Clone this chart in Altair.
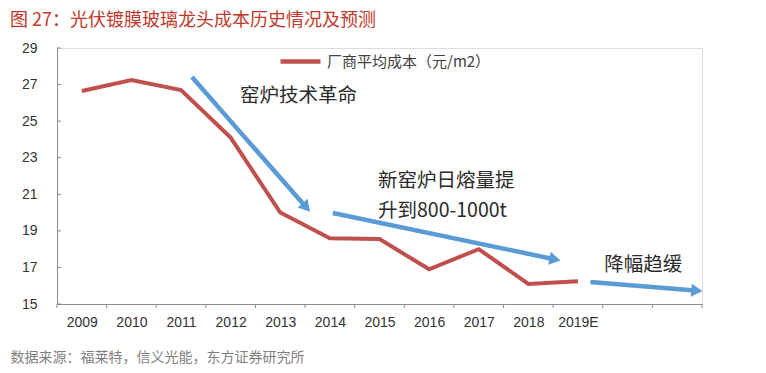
import math
import altair as alt
import pandas as pd

# ---- data ----
years = ["2009", "2010", "2011", "2012", "2013", "2014", "2015", "2016", "2017", "2018", "2019E"]
cost = [26.65, 27.25, 26.7, 24.1, 20.0, 18.6, 18.55, 16.9, 18.0, 16.1, 16.25]
series_name = "厂商平均成本（元/m2）"
n_slots = 13  # two empty category slots after 2019E
y_ticks = [15, 17, 19, 21, 23, 25, 27, 29]

# annotation arrows (start/end in data units: slot index, cost)
arrow_x0 = [2.72, 5.56, 10.75]
arrow_y0 = [27.41, 19.98, 16.2]
arrow_x1 = [5.0, 10.0, 12.86]
arrow_y1 = [20.36, 17.46, 15.74]

notes = ["窑炉技术革命", "新窑炉日熔量提", "升到800-1000t", "降幅趋缓"]
note_x = [3.69, 6.47, 6.47, 11.03]
note_y = [26.37, 21.72, 20.08, 17.13]

title_text = "图 27：光伏镀膜玻璃龙头成本历史情况及预测"
source_text = "数据来源：福莱特，信义光能，东方证券研究所"

# ---- build tables ----
W, H = 645, 256
ymin, ymax = 15, 29
RED = "#c0504d"
BLUE = "#5b9bd5"
AXC = "#8c8c8c"
CJK = "Noto Sans CJK SC"

line_df = pd.DataFrame({
    "pos": [i + 0.5 for i in range(len(years))],
    "cost": cost,
    "year": years,
    "series": [series_name] * len(years),
})

px_x = W / n_slots
px_y = H / (ymax - ymin)
angles = []
for a, b, c, d in zip(arrow_x0, arrow_y0, arrow_x1, arrow_y1):
    dx = (c - a) * px_x
    dy_up = (d - b) * px_y
    angles.append(math.degrees(math.atan2(dx, dy_up)) % 360)
arrow_df = pd.DataFrame({"x0": arrow_x0, "y0": arrow_y0, "x1": arrow_x1, "y1": arrow_y1, "angle": angles})
note_df = pd.DataFrame({"text": notes, "x": note_x, "y": note_y})
ytick_df = pd.DataFrame({"y": y_ticks, "x0": [0] * len(y_ticks), "x1": [0.08] * len(y_ticks)})
tick_len = 4 / px_y
xtick_df = pd.DataFrame({
    "x": list(range(n_slots + 1)),
    "y0": [ymin] * (n_slots + 1),
    "y1": [ymin - tick_len] * (n_slots + 1),
})

label_expr = "[" + ",".join("'" + s + "'" for s in years) + "][floor(datum.value)]"

xscale = alt.Scale(domain=[0, n_slots], nice=False, zero=False)
yscale = alt.Scale(domain=[ymin, ymax], nice=False, zero=False)

x_axis = alt.Axis(
    values=[i + 0.5 for i in range(len(years))], labelExpr=label_expr,
    labelAlign="center", labelFlush=False, labelOverlap=False, labelBound=False,
    labelFontSize=14, labelColor="#333333", labelPadding=11,
    tickSize=0, domainColor=AXC, grid=False,
    title=source_text, titleX=-47, titleY=53, titleAlign="left", titleBaseline="middle",
    titleFontSize=14, titleColor="#7f7f7f", titleFont=CJK, titleFontWeight="normal",
    titleAngle=0,
)
y_axis = alt.Axis(
    values=y_ticks, labelFontSize=14, labelColor="#333333", labelPadding=20,
    labelOverlap=False, labelFlush=False, labelBound=False,
    tickSize=0, domainColor=AXC, grid=False, title=None,
)

base_line = alt.Chart(line_df).mark_line(strokeWidth=4).encode(
    x=alt.X("pos:Q", scale=xscale, axis=x_axis),
    y=alt.Y("cost:Q", scale=yscale, axis=y_axis),
    color=alt.Color(
        "series:N",
        scale=alt.Scale(domain=[series_name], range=[RED]),
        legend=alt.Legend(
            title=None, orient="none", legendX=221, legendY=-9, padding=0,
            symbolType="stroke", symbolSize=1600, symbolStrokeWidth=4.5,
            labelFontSize=15, labelFont=CJK, labelColor="#404040", labelOffset=4,
            labelLimit=300,
        ),
    ),
)

ytick_layer = alt.Chart(ytick_df).mark_rule(color=AXC, strokeWidth=1).encode(
    x=alt.X("x0:Q", axis=x_axis), x2="x1:Q", y=alt.Y("y:Q", axis=y_axis)
)
xtick_layer = alt.Chart(xtick_df).mark_rule(color=AXC, strokeWidth=1).encode(
    x=alt.X("x:Q", axis=x_axis), y=alt.Y("y0:Q", axis=y_axis), y2="y1:Q"
)

arrow_lines = alt.Chart(arrow_df).mark_rule(color=BLUE, strokeWidth=4.5).encode(
    x=alt.X("x0:Q", axis=x_axis), y=alt.Y("y0:Q", axis=y_axis), x2="x1:Q", y2="y1:Q"
)
arrow_heads = alt.Chart(arrow_df).mark_point(
    shape="triangle", filled=True, color=BLUE, size=170, opacity=1
).encode(
    x=alt.X("x1:Q", axis=x_axis), y=alt.Y("y1:Q", axis=y_axis),
    angle=alt.Angle("angle:Q", scale=None)
)

note_layer = alt.Chart(note_df).mark_text(
    align="left", baseline="middle", font=CJK, fontSize=19.5, color="#2b2b2b"
).encode(x=alt.X("x:Q", axis=x_axis), y=alt.Y("y:Q", axis=y_axis), text="text:N")

chart = alt.layer(
    base_line, ytick_layer, xtick_layer, arrow_lines, arrow_heads, note_layer
).properties(
    width=W, height=H,
    autosize=alt.AutoSizeParams(type="none"),
    padding={"left": 49, "top": 40, "right": 56, "bottom": 61},
    title=alt.TitleParams(
        text=title_text, anchor="start", frame="group", dx=-47, offset=9,
        fontSize=18, color="#c0392b", font=CJK, fontWeight="normal",
    ),
).configure_view(stroke=None).configure(font="Liberation Sans")

chart.save("out.html", embed_options={"renderer": "svg", "actions": False})
